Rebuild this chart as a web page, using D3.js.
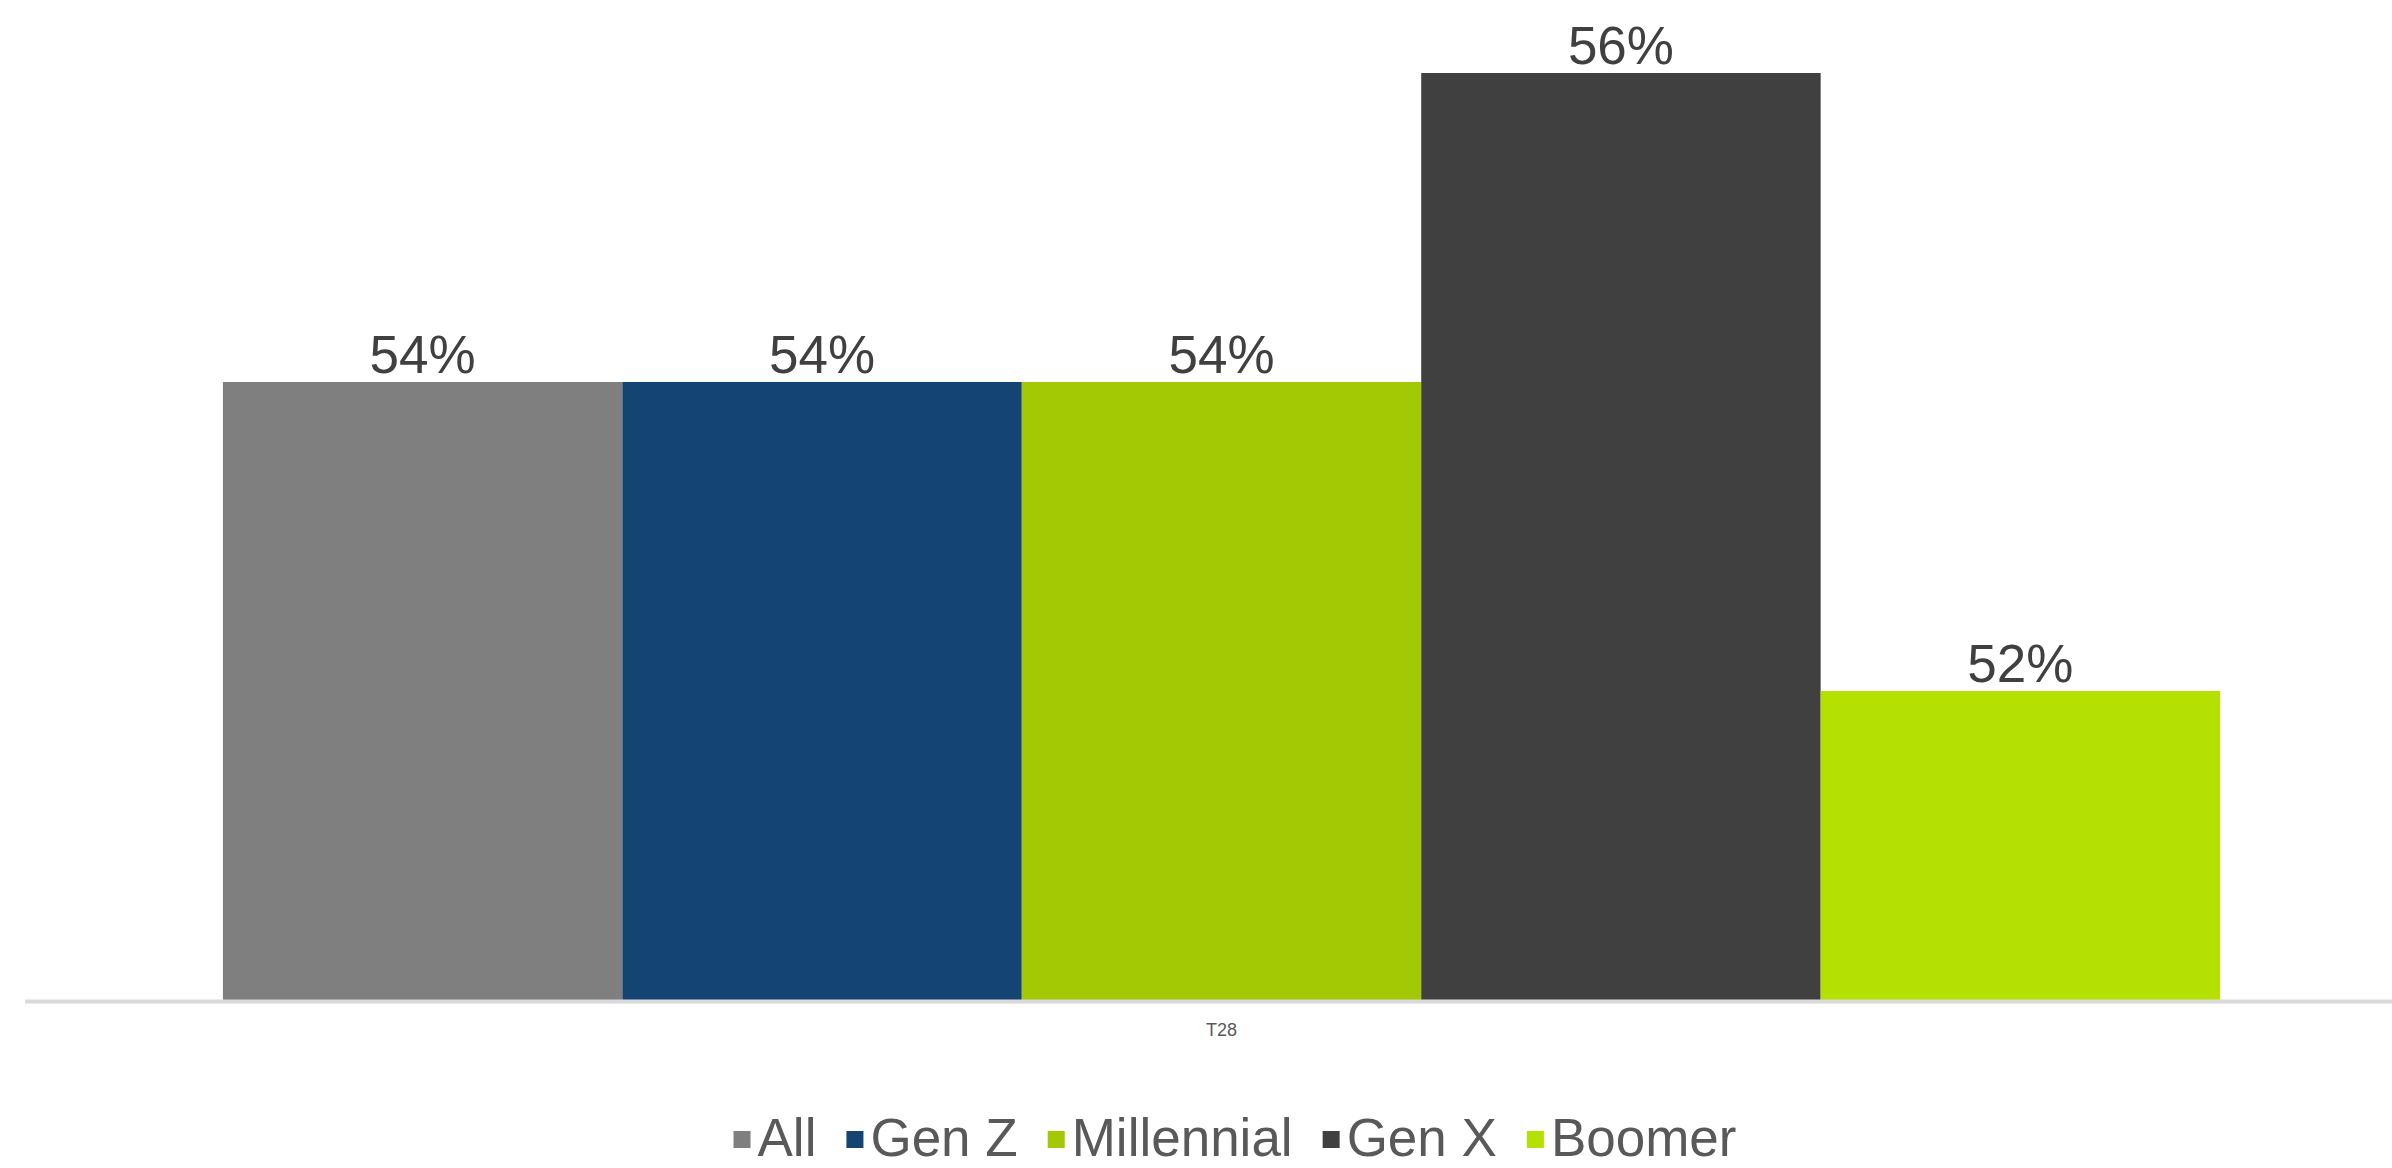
<!DOCTYPE html>
<html>
<head>
<meta charset="utf-8">
<script src="https://cdn.jsdelivr.net/npm/d3@7"></script>
<style>
  html, body { margin: 0; padding: 0; background: #fff; }
  svg { display: block; font-family: "Liberation Sans", Arial, sans-serif; }
  .axis--x path { stroke: #d9d9d9; stroke-width: 4; }
  .axis--x text { fill: #595959; font-size: 18px; }
  .value { fill: #404040; font-size: 53px; text-anchor: middle; }
  .legend text { fill: #595959; font-size: 53px; }
</style>
</head>
<body>
<svg id="chart" width="2392" height="1168"></svg>
<script>
// chart data
const categories = ["T28"];
const series = ["All", "Gen Z", "Millennial", "Gen X", "Boomer"];
const values = [54, 54, 54, 56, 52];
const yMin = 50;
const yMax = 56;

const width = 2392, height = 1168;
const margin = { left: 25, right: -26, top: 73, bottom: 168 };

const color = d3.scaleOrdinal(series, ["#7f7f7f", "#134472", "#a3c804", "#404040", "#b5e102"]);

const svg = d3.select("#chart");

const x0 = d3.scaleBand()
  .domain(categories)
  .range([margin.left, width - margin.right])
  .paddingInner(0)
  .paddingOuter(0.0991);

const x1 = d3.scaleBand()
  .domain(series)
  .range([0, x0.bandwidth()])
  .padding(0);

const y = d3.scaleLinear()
  .domain([yMin, yMax])
  .range([height - margin.bottom, margin.top]);

const rows = series.map((s, i) => ({ cat: categories[0], name: s, value: values[i] }));

const g = svg.append("g");

g.selectAll(".bar")
  .data(rows)
  .enter().append("rect")
  .attr("class", "bar")
  .attr("x", d => x0(d.cat) + x1(d.name))
  .attr("y", d => y(d.value))
  .attr("width", x1.bandwidth())
  .attr("height", d => y(yMin) - y(d.value))
  .attr("fill", d => color(d.name));

g.selectAll(".value")
  .data(rows)
  .enter().append("text")
  .attr("class", "value")
  .attr("x", d => x0(d.cat) + x1(d.name) + x1.bandwidth() / 2)
  .attr("y", d => y(d.value) - 9)
  .text(d => d.value + "%");

// category axis, baseline only
const axis = g.append("g")
  .attr("class", "axis axis--x")
  .attr("transform", "translate(0," + (y(yMin) + 1.5) + ")")
  .call(d3.axisBottom(x0).tickSize(0).tickSizeOuter(0).tickPadding(22));
axis.select(".domain").attr("d", "M" + margin.left + ",0H" + width);
axis.selectAll("text").attr("font-family", null);

// legend
const legend = svg.append("g").attr("class", "legend");
const markerSize = 17, markerGap = 7, itemGap = 30;
let cursor = 0;
series.forEach(s => {
  const item = legend.append("g").attr("transform", "translate(" + cursor + ",0)");
  item.append("rect")
    .attr("x", 0)
    .attr("y", -25)
    .attr("width", markerSize)
    .attr("height", markerSize)
    .attr("fill", color(s));
  const t = item.append("text")
    .attr("x", markerSize + markerGap)
    .attr("y", 0)
    .text(s);
  cursor += markerSize + markerGap + t.node().getComputedTextLength() + itemGap;
});
const legendWidth = cursor - itemGap;
legend.attr("transform", "translate(" + (1235 - legendWidth / 2) + ",1156)");
</script>
</body>
</html>
